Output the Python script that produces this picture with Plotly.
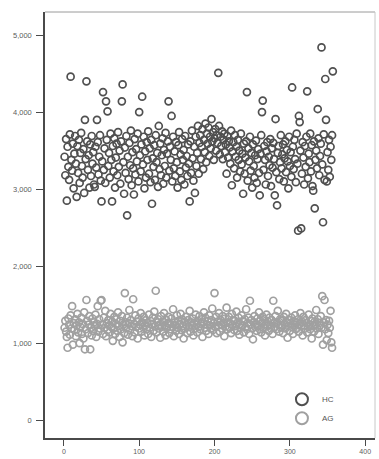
import plotly.graph_objects as go

hc_values = [
    3420, 3180, 3650, 2850, 3550, 3290, 3120, 3710, 4460, 3380,
    3240, 3590, 3010, 3460, 3690, 3330, 2900, 3560, 3210, 3640,
    3080, 3470, 3730, 3300, 3150, 3520, 2950, 3900, 3390, 4400,
    3620, 3250, 3440, 3020, 3580, 3170, 3690, 3330, 3480, 3060,
    3030, 3550, 3280, 3900, 3610, 3190, 3420, 3700, 3110, 2840,
    3360, 4260, 3250, 3530, 3080, 4140, 3640, 4010, 3300, 3470,
    3150, 3720, 3380, 2840, 3560, 3230, 3660, 3020, 3410, 3590,
    3180, 3740, 3290, 3500, 3070, 3620, 4140, 4360, 3350, 2940,
    3540, 3210, 3690, 2660, 3420, 3130, 3600, 3310, 3760, 3050,
    3480, 3270, 2930, 3650, 3190, 3520, 3360, 3720, 3100, 4000,
    3440, 3230, 3580, 4200, 3320, 3680, 3010, 3490, 3150, 3610,
    3380, 3750, 3200, 3530, 3090, 3640, 2810, 3400, 3290, 3570,
    3120, 3700, 3350, 3470, 3030, 3820, 3260, 3590, 3180, 3440,
    3660, 3070, 3510, 3300, 3730, 3150, 3460, 3620, 4140, 3240,
    3550, 3380, 3950, 3100, 3680, 3270, 3490, 3170, 3610, 3350,
    3020, 3570, 3740, 3230, 3450, 3120, 3650, 3380, 3510, 3060,
    3690, 3280, 3430, 3170, 3580, 3330, 2840, 3620, 3210, 3760,
    3400, 3110, 3550, 2950, 3680, 3300, 3470, 3820, 3200, 3600,
    3700, 3390, 3550, 3780, 3260, 3640, 3480, 3850, 3350, 3720,
    3590, 3800, 3430, 3680, 3530, 3910, 3620, 3740, 3380, 3660,
    3780, 3500, 3700, 3600, 4510, 3820, 3450, 3680, 3560, 3750,
    3390, 3640, 3720, 3480, 3580, 3200, 3690, 3410, 3620, 3540,
    3330, 3760, 3050, 3490, 3610, 3270, 3700, 3420, 3550, 3150,
    3640, 3380, 3500, 3230, 3720, 3320, 3460, 2940, 3590, 3200,
    3410, 3620, 4260, 3110, 3530, 3360, 3680, 3240, 3470, 3020,
    3580, 3300, 3150, 3440, 3630, 3080, 3390, 3520, 3210, 2920,
    3460, 3700, 4000, 4150, 3250, 3560, 3380, 3060, 3490, 3610,
    3170, 3420, 3310, 3650, 3040, 3530, 3280, 3600, 3390, 2920,
    3910, 3220, 2790, 3470, 3560, 3130, 3350, 3700, 3270, 3450,
    3580, 3100, 3400, 3620, 3220, 3510, 3360, 3010, 3680, 3300,
    3480, 3160, 4320, 3550, 3260, 3640, 3390, 3090, 3720, 3330,
    2460, 3950, 3870, 3500, 2490, 3200, 3610, 3410, 3060, 3560,
    3290, 3680, 4270, 3140, 3460, 3350, 3720, 3230, 3570, 3040,
    2980, 3620, 2750, 3380, 3500, 3270, 4040, 3660, 3180, 3430,
    3590, 4840, 3320, 2570, 3710, 3120, 4430, 3900, 3100, 3480,
    3250, 3640, 3160, 3550, 3380, 3700, 4530,
]

ag_values = [
    1200, 1290, 1150, 1080, 940, 1320, 1240, 1110, 1360, 1190,
    1480, 980, 1260, 1170, 1310, 1090, 1230, 1380, 1140, 1270,
    1000, 1210, 1330, 1120, 1250, 1060, 1400, 920, 1180, 1560,
    1290, 1130, 1240, 1350, 920, 1200, 1100, 1320, 1160, 1270,
    1220, 1370, 1080, 1250, 1480, 1150, 1310, 1190, 1550, 1560,
    1240, 1120, 1330, 1200, 1420, 1090, 1260, 1170, 1300, 1230,
    1140, 1380, 1210, 1280, 1030, 1190, 1340, 1120, 1250, 1310,
    1160, 1400, 1220, 1080, 1290, 1180, 1350, 1010, 1240, 1130,
    1650, 1270, 1200, 1330, 1110, 1260, 1430, 1170, 1300, 1220,
    1090, 1570, 1250, 1140, 1360, 1210, 1280, 1060, 1320, 1190,
    1240, 1390, 1150, 1270, 1210, 1340, 1100, 1230, 1300, 1180,
    1260, 1120, 1370, 1200, 1290, 1080, 1250, 1330, 1160, 1410,
    1220, 1680, 1140, 1270, 1310, 1190, 1240, 1070, 1350, 1210,
    1280, 1150, 1390, 1230, 1100, 1300, 1200, 1260, 1340, 1130,
    1250, 1180, 1320, 1210, 1440, 1090, 1270, 1230, 1160, 1360,
    1200, 1290, 1120, 1250, 1380, 1170, 1310, 1220, 1060, 1280,
    1190, 1340, 1240, 1130, 1300, 1210, 1420, 1150, 1270, 1230,
    1320, 1100, 1260, 1190, 1370, 1240, 1140, 1290, 1210, 1350,
    1180, 1250, 1310, 1080, 1270, 1400, 1200, 1330, 1160, 1240,
    1290, 1120, 1360, 1230, 1190, 1300, 1450, 1170, 1260, 1650,
    1210, 1340, 1130, 1280, 1230, 1390, 1150, 1300, 1240, 1190,
    1350, 1260, 1090, 1320, 1220, 1460, 1180, 1270, 1340, 1200,
    1250, 1130, 1380, 1240, 1300, 1170, 1290, 1220, 1410, 1160,
    1270, 1330, 1110, 1250, 1200, 1360, 1230, 1290, 1140, 1310,
    1210, 1440, 1180, 1260, 1330, 1120, 1550, 1240, 1300, 1190,
    1050, 1270, 1350, 1210, 1250, 1160, 1320, 1230, 1400, 1180,
    1290, 1140, 1260, 1340, 1200, 1310, 1100, 1250, 1370, 1220,
    1280, 1160, 1330, 1230, 1190, 1300, 1120, 1550, 1260, 1210,
    1350, 1180, 1270, 1420, 1240, 1150, 1310, 1200, 1290, 1230,
    1130, 1340, 1250, 1190, 1380, 1270, 1070, 1220, 1300, 1160,
    1260, 1330, 1210, 1120, 1290, 1240, 1360, 1180, 1270, 1200,
    1310, 1150, 1250, 1390, 1220, 1280, 1100, 1340, 1230, 1190,
    1300, 1260, 1140, 1210, 1370, 1240, 1180, 1290, 1060, 1320,
    1220, 1150, 1280, 1250, 1430, 1190, 1310, 1120, 1260, 1230,
    1350, 1200, 1610, 980, 1270, 1560, 1180, 1300, 1040, 1240,
    1130, 1290, 1200, 1420, 1010, 940,
]

hc_x = list(range(1, len(hc_values) + 1))
ag_x = list(range(1, len(ag_values) + 1))

x_ticks = [0, 100, 200, 300, 400]
y_ticks = [0, 1000, 2000, 3000, 4000, 5000]
y_tick_text = ["0", "1,000", "2,000", "3,000", "4,000", "5,000"]

HC_COLOR = "#505050"
AG_COLOR = "#a0a0a0"

fig = go.Figure()
fig.add_trace(go.Scatter(
    x=hc_x, y=hc_values, mode="markers", name="HC",
    marker=dict(symbol="circle-open", size=7, color=HC_COLOR,
                line=dict(width=1.7, color=HC_COLOR)),
))
fig.add_trace(go.Scatter(
    x=ag_x, y=ag_values, mode="markers", name="AG",
    marker=dict(symbol="circle-open", size=7, color=AG_COLOR,
                line=dict(width=1.7, color=AG_COLOR)),
))

fig.update_layout(
    width=379, height=459,
    margin=dict(l=45, r=4, t=12, b=18),
    paper_bgcolor="white", plot_bgcolor="white",
    font=dict(family="Liberation Sans, Arial, sans-serif", color="#5c5c5c", size=7),
    legend=dict(
        x=0.718, y=0.125, xanchor="left", yanchor="top",
        bgcolor="rgba(0,0,0,0)", font=dict(size=8, color="#555555"),
        itemsizing="constant", tracegroupgap=0, itemwidth=30,
    ),
    showlegend=True,
)
fig.update_xaxes(
    range=[-25, 413], tickvals=x_ticks, ticktext=[str(v) for v in x_ticks],
    showgrid=False, zeroline=False, showline=True, linecolor="#4a4a4a", linewidth=1.5,
    mirror=False, ticks="outside", ticklen=6, tickcolor="#4a4a4a", tickwidth=1,
    tickfont=dict(size=7, color="#5c5c5c"),
)
fig.update_yaxes(
    range=[-232, 5300], tickvals=y_ticks, ticktext=y_tick_text,
    showgrid=False, zeroline=False, showline=True, linecolor="#4a4a4a", linewidth=1.5,
    mirror=False, ticks="outside", ticklen=7, tickcolor="#4a4a4a", tickwidth=1,
    tickfont=dict(size=7.5, color="#5c5c5c"), ticklabelstandoff=3,
)
# light frame on the top and right
fig.add_shape(type="line", xref="paper", yref="paper", x0=0, x1=1, y0=1, y1=1,
              line=dict(color="#9a9a9a", width=1))
fig.add_shape(type="line", xref="paper", yref="paper", x0=1, x1=1, y0=0, y1=1,
              line=dict(color="#c8c8c8", width=1))

fig.write_html("out.html")
